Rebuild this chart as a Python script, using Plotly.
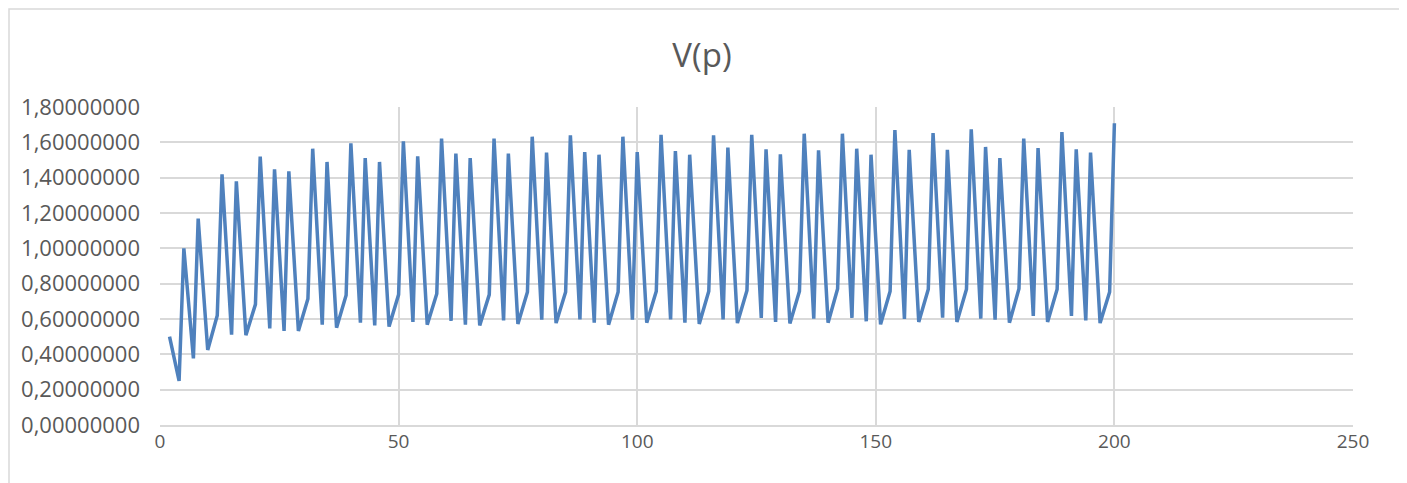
import plotly.graph_objects as go

p_values = [2, 4, 5, 7, 8, 10, 12, 13, 15, 16, 18, 20, 21, 23, 24, 26, 27, 29, 31, 32,
            34, 35, 37, 39, 40, 42, 43, 45, 46, 48, 50, 51, 53, 54, 56, 58, 59, 61, 62, 64,
            65, 67, 69, 70, 72, 73, 75, 77, 78, 80, 81, 83, 85, 86, 88, 89, 91, 92, 94, 96,
            97, 99, 100, 102, 104, 105, 107, 108, 110, 111, 113, 115, 116, 118, 119, 121, 123, 124, 126, 127,
            129, 130, 132, 134, 135, 137, 138, 140, 142, 143, 145, 146, 148, 149, 151, 153, 154, 156, 157, 159,
            161, 162, 164, 165, 167, 169, 170, 172, 173, 175, 176, 178, 180, 181, 183, 184, 186, 188, 189, 191,
            192, 194, 195, 197, 199, 200]

v_values = [0.500, 0.250, 1.000, 0.377, 1.168, 0.425, 0.620, 1.419, 0.511, 1.379,
            0.508, 0.683, 1.519, 0.547, 1.447, 0.532, 1.436, 0.532, 0.715, 1.564,
            0.568, 1.489, 0.551, 0.734, 1.594, 0.579, 1.511, 0.564, 1.489, 0.557,
            0.738, 1.606, 0.583, 1.521, 0.568, 0.743, 1.621, 0.589, 1.536, 0.568,
            1.511, 0.564, 0.738, 1.621, 0.592, 1.536, 0.572, 0.753, 1.632, 0.596,
            1.542, 0.577, 0.753, 1.640, 0.598, 1.545, 0.579, 1.530, 0.568, 0.753,
            1.632, 0.596, 1.545, 0.579, 0.757, 1.643, 0.598, 1.551, 0.579, 1.530,
            0.572, 0.757, 1.640, 0.598, 1.570, 0.577, 0.762, 1.643, 0.606, 1.560,
            0.583, 1.532, 0.575, 0.757, 1.649, 0.602, 1.555, 0.579, 0.772, 1.649,
            0.606, 1.564, 0.587, 1.530, 0.570, 0.757, 1.670, 0.600, 1.558, 0.583,
            0.768, 1.653, 0.608, 1.558, 0.583, 0.768, 1.674, 0.602, 1.574, 0.596,
            1.511, 0.579, 0.772, 1.621, 0.617, 1.568, 0.583, 0.768, 1.658, 0.617,
            1.560, 0.592, 1.542, 0.577, 0.753, 1.708]

x_ticks = [0, 50, 100, 150, 200, 250]
y_ticks = [0.0, 0.2, 0.4, 0.6, 0.8, 1.0, 1.2, 1.4, 1.6, 1.8]
y_tick_labels = ["0,00000000", "0,20000000", "0,40000000", "0,60000000", "0,80000000",
                 "1,00000000", "1,20000000", "1,40000000", "1,60000000", "1,80000000"]

FONT = "Open Sans"
TXT = "#595959"
GRID = "#D9D9D9"

W, H = 1407, 483
L, T = 152, 99
R = W - 1345
B = H - 416.7
PW, PH = W - L - R, H - T - B

fig = go.Figure()
fig.add_trace(go.Scatter(
    x=p_values, y=v_values, mode="lines",
    line=dict(color="#4F81BD", width=3.5),
    showlegend=False, hoverinfo="x+y",
))

fig.update_layout(
    width=W, height=H,
    margin=dict(l=L, r=R, t=T, b=B),
    paper_bgcolor="white", plot_bgcolor="white",
    title=dict(text="V(p)", x=694 / W, xanchor="center", y=1 - 47 / H, yanchor="middle",
               font=dict(family=FONT, size=33, color=TXT)),
    font=dict(family=FONT, size=20, color=TXT),
    xaxis=dict(range=[0, 250], tickvals=x_ticks, showgrid=True, gridcolor=GRID, gridwidth=1.5,
               zeroline=False, showline=True, linecolor=GRID, linewidth=1.5,
               ticks="", ticklabelstandoff=-2, tickfont=dict(family=FONT, size=19, color=TXT)),
    yaxis=dict(range=[0, 1.8], tickvals=y_ticks, ticktext=y_tick_labels, showgrid=True,
               gridcolor=GRID, gridwidth=1.5, zeroline=False, showline=False,
               ticks="", ticklabelstandoff=19, tickfont=dict(family=FONT, size=22, color=TXT)),
    shapes=[dict(type="rect", xref="paper", yref="paper",
                 x0=(1 - L) / PW, x1=(W - 14 - L) / PW,
                 y0=-0.3, y1=(H - B - 1) / PH,
                 line=dict(color=GRID, width=1.5), fillcolor="rgba(0,0,0,0)", layer="below")],
)

fig.write_html("out.html")
